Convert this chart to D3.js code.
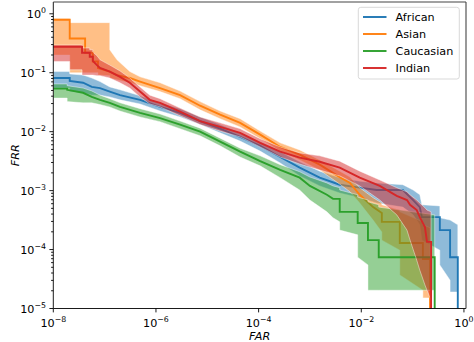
<!DOCTYPE html>
<html>
<head>
<meta charset="utf-8">
<script src="https://cdn.jsdelivr.net/npm/d3@7"></script>
<style>
  html, body { margin: 0; padding: 0; background: #fff; }
  svg { display: block; font-family: "DejaVu Sans", sans-serif; }
</style>
</head>
<body>
<script>
// DET curves, values are log10(FAR) / log10(FRR).
// upper/lower = confidence band around each curve.
const groups = ["African", "Asian", "Caucasian", "Indian"];
const colors = ["#1f77b4", "#ff7f0e", "#2ca02c", "#d62728"];

const africanFar   = [-8, -7.68, -7.68, -7.42, -7.25, -7.09, -6.90, -6.70, -6.31, -5.92, -5.53, -5.14, -4.75, -4.36, -3.97, -3.58, -3.20, -2.81, -2.42, -2.03, -1.70, -1.19, -0.99, -0.86, -0.82, -0.47, -0.47, -0.27, -0.27, -0.12, -0.12];
const africanFrr   = [-1.09, -1.09, -1.14, -1.17, -1.24, -1.26, -1.32, -1.38, -1.46, -1.58, -1.68, -1.82, -1.95, -2.09, -2.24, -2.43, -2.61, -2.78, -2.90, -2.95, -2.99, -2.99, -3.16, -3.28, -3.45, -3.45, -3.67, -3.67, -4.13, -4.13, -6];
const africanUpper = [-0.98, -0.98, -1.02, -1.04, -1.09, -1.15, -1.24, -1.29, -1.39, -1.51, -1.61, -1.75, -1.88, -2.02, -2.17, -2.34, -2.51, -2.67, -2.78, -2.84, -2.87, -2.90, -2.99, -3.07, -3.24, -3.26, -3.46, -3.50, -3.50, -3.58, -3.67];
const africanLower = [-1.26, -1.26, -1.32, -1.34, -1.38, -1.38, -1.41, -1.46, -1.53, -1.65, -1.75, -1.88, -2.02, -2.16, -2.33, -2.53, -2.75, -2.92, -3.04, -3.12, -3.21, -3.28, -3.41, -3.58, -3.84, -4.01, -4.26, -4.52, -4.72, -4.72, -4.72];

const asianFar   = [-8, -7.68, -7.68, -7.38, -7.38, -7.23, -7.23, -7.13, -7.13, -6.90, -6.90, -6.76, -6.51, -6.31, -5.92, -5.53, -5.14, -4.75, -4.36, -3.97, -3.58, -3.20, -2.81, -2.42, -2.22, -2.03, -1.77, -1.60, -1.60, -1.25, -1.25, -0.80, -0.80, -0.66, -0.66];
const asianFrr   = [-0.10, -0.10, -0.42, -0.42, -0.66, -0.66, -0.81, -0.81, -0.92, -0.98, -0.98, -1.04, -1.09, -1.15, -1.26, -1.38, -1.56, -1.71, -1.85, -2.05, -2.26, -2.39, -2.56, -2.77, -2.87, -3.07, -3.28, -3.38, -3.53, -3.53, -3.89, -3.89, -4.16, -4.16, -6];
const asianUpper = [-0.08, -0.08, -0.15, -0.15, -0.15, -0.15, -0.15, -0.15, -0.15, -0.15, -0.61, -0.78, -0.98, -1.07, -1.17, -1.31, -1.49, -1.65, -1.78, -1.99, -2.19, -2.31, -2.48, -2.67, -2.77, -2.95, -3.12, -3.21, -3.24, -3.33, -3.36, -3.53, -3.58, -3.63, -3.67];
const asianLower = [-0.70, -0.70, -1.00, -1.00, -1.00, -1.00, -1.00, -1.00, -1.04, -1.05, -1.09, -1.12, -1.17, -1.22, -1.32, -1.44, -1.63, -1.78, -1.92, -2.12, -2.33, -2.48, -2.65, -2.89, -3.02, -3.21, -3.50, -3.70, -3.84, -4.01, -4.43, -4.69, -4.82, -4.82, -4.82];

const caucasianFar   = [-8, -7.73, -7.73, -7.42, -7.25, -7.09, -6.90, -6.70, -6.31, -5.92, -5.53, -5.14, -4.75, -4.36, -3.97, -3.58, -3.20, -3.00, -2.67, -2.55, -2.42, -2.42, -2.07, -2.07, -1.87, -1.87, -1.66, -1.66, -0.57, -0.57];
const caucasianFrr   = [-1.27, -1.27, -1.29, -1.34, -1.41, -1.46, -1.51, -1.58, -1.68, -1.77, -1.88, -2.00, -2.17, -2.34, -2.50, -2.65, -2.78, -2.92, -3.07, -3.14, -3.14, -3.36, -3.36, -3.55, -3.55, -3.84, -3.84, -4.13, -4.13, -6];
const caucasianUpper = [-1.19, -1.19, -1.22, -1.26, -1.31, -1.38, -1.44, -1.51, -1.61, -1.70, -1.82, -1.94, -2.11, -2.28, -2.41, -2.56, -2.68, -2.77, -2.87, -2.92, -2.95, -2.99, -3.07, -3.11, -3.16, -3.19, -3.24, -3.28, -3.41, -3.41];
const caucasianLower = [-1.43, -1.43, -1.49, -1.51, -1.51, -1.54, -1.58, -1.65, -1.75, -1.83, -1.95, -2.07, -2.24, -2.43, -2.58, -2.78, -2.99, -3.16, -3.36, -3.46, -3.53, -3.67, -3.75, -4.13, -4.26, -4.69, -4.69, -4.69, -4.69, -4.69];

const indianFar   = [-8, -7.68, -7.68, -7.44, -7.44, -7.29, -7.29, -7.23, -7.23, -7.15, -7.09, -6.90, -6.70, -6.51, -6.31, -6.12, -5.92, -5.53, -5.14, -4.75, -4.36, -3.97, -3.58, -3.20, -2.81, -2.42, -2.03, -1.64, -1.31, -1.11, -1.05, -0.92, -0.86, -0.76, -0.72, -0.64, -0.64];
const indianFrr   = [-0.56, -0.56, -0.56, -0.56, -0.66, -0.66, -0.73, -0.73, -0.80, -0.87, -0.92, -0.98, -1.07, -1.17, -1.32, -1.46, -1.51, -1.66, -1.82, -1.92, -2.02, -2.19, -2.34, -2.44, -2.51, -2.61, -2.78, -2.92, -3.09, -3.16, -3.24, -3.33, -3.45, -3.62, -3.87, -3.87, -6];
const indianUpper = [-0.53, -0.53, -0.53, -0.53, -0.58, -0.58, -0.61, -0.61, -0.65, -0.71, -0.78, -0.87, -0.97, -1.09, -1.24, -1.38, -1.44, -1.60, -1.75, -1.85, -1.95, -2.12, -2.26, -2.36, -2.41, -2.50, -2.67, -2.82, -2.95, -3.02, -3.07, -3.16, -3.21, -3.29, -3.33, -3.36, -3.41];
const indianLower = [-0.81, -0.81, -0.95, -0.95, -1.04, -1.04, -1.04, -1.04, -1.04, -1.05, -1.05, -1.09, -1.17, -1.26, -1.41, -1.53, -1.58, -1.73, -1.88, -1.99, -2.09, -2.26, -2.43, -2.55, -2.65, -2.75, -2.92, -3.16, -3.41, -3.67, -3.84, -4.18, -4.35, -4.60, -4.69, -4.86, -4.86];

const xTicks = [1e-8, 1e-6, 1e-4, 1e-2, 1];
const xTickExp = ["\u22128", "\u22126", "\u22124", "\u22122", "0"];
const yTicks = [1e-5, 1e-4, 1e-3, 1e-2, 1e-1, 1];
const yTickExp = ["\u22125", "\u22124", "\u22123", "\u22122", "\u22121", "0"];

const width = 474, height = 342;
const m = {left: 53.3, right: 466, top: 2, bottom: 308.5};

const x = d3.scaleLog().domain([1e-8, 10 ** 0.04]).range([m.left, m.right]);
const y = d3.scaleLog().domain([1e-5, 10 ** 0.2]).range([m.bottom, m.top]);

const cols = [
  [africanFar, africanFrr, africanUpper, africanLower],
  [asianFar, asianFrr, asianUpper, asianLower],
  [caucasianFar, caucasianFrr, caucasianUpper, caucasianLower],
  [indianFar, indianFrr, indianUpper, indianLower]
];
const series = groups.map((name, i) => {
  const [far, frr, up, lo] = cols[i];
  return {
    name, color: colors[i],
    points: far.map((f, j) => ({far: 10 ** f, frr: 10 ** frr[j], up: 10 ** up[j], lo: 10 ** lo[j]}))
  };
});

const svg = d3.select("body").append("svg")
  .attr("width", width)
  .attr("height", height);

svg.append("clipPath").attr("id", "plot")
  .append("rect")
  .attr("x", m.left).attr("y", m.top)
  .attr("width", m.right - m.left).attr("height", m.bottom - m.top);

const plot = svg.append("g").attr("clip-path", "url(#plot)");

const band = d3.area()
  .x(d => x(d.far))
  .y0(d => y(d.lo))
  .y1(d => y(d.up));
const line = d3.line()
  .x(d => x(d.far))
  .y(d => y(d.frr));

for (const s of series) {
  plot.append("path")
    .attr("d", band(s.points))
    .attr("fill", s.color)
    .attr("fill-opacity", 0.5)
    .attr("stroke", "#fff")
    .attr("stroke-opacity", 0.55)
    .attr("stroke-width", 0.8);
  plot.append("path")
    .attr("d", line(s.points))
    .attr("fill", "none")
    .attr("stroke", s.color)
    .attr("stroke-width", 1.9);
}

// axes
const fs = 11.2;
const ax = svg.append("g").attr("stroke", "#000").attr("stroke-width", 0.9);

// y minor ticks
const yMinor = y.ticks().filter(v => !yTicks.some(t => Math.abs(v / t - 1) < 1e-6));
ax.selectAll(".ymin").data(yMinor).join("line")
  .attr("x1", m.left - 2.2).attr("x2", m.left)
  .attr("y1", d => y(d)).attr("y2", d => y(d));
ax.selectAll(".ymaj").data(yTicks).join("line")
  .attr("x1", m.left - 3.9).attr("x2", m.left)
  .attr("y1", d => y(d)).attr("y2", d => y(d));
ax.selectAll(".xmaj").data(xTicks).join("line")
  .attr("x1", d => x(d)).attr("x2", d => x(d))
  .attr("y1", m.bottom).attr("y2", m.bottom + 3.9);

// frame
svg.append("line").attr("x1", m.left).attr("x2", m.left).attr("y1", m.top).attr("y2", m.bottom)
  .attr("stroke", "#000").attr("stroke-width", 0.9);
svg.append("line").attr("x1", m.left).attr("x2", m.right).attr("y1", m.bottom).attr("y2", m.bottom)
  .attr("stroke", "#000").attr("stroke-width", 0.9);
svg.append("line").attr("x1", m.left).attr("x2", m.right).attr("y1", m.top).attr("y2", m.top)
  .attr("stroke", "#444").attr("stroke-width", 1.1);
svg.append("line").attr("x1", m.right).attr("x2", m.right).attr("y1", m.top).attr("y2", m.bottom)
  .attr("stroke", "#444").attr("stroke-width", 1.1);

// tick labels
function powLabel(sel, exp) {
  sel.append("tspan").text("10");
  sel.append("tspan").attr("dy", -4.6).attr("font-size", fs * 0.7).text(exp);
}
xTicks.forEach((t, i) => {
  svg.append("text")
    .attr("x", x(t)).attr("y", 326.5)
    .attr("text-anchor", "middle")
    .attr("font-size", fs)
    .call(powLabel, xTickExp[i]);
});
yTicks.forEach((t, i) => {
  svg.append("text")
    .attr("x", 46).attr("y", y(t) + 4.3)
    .attr("text-anchor", "end")
    .attr("font-size", fs)
    .call(powLabel, yTickExp[i]);
});

svg.append("text")
  .attr("x", (m.left + m.right) / 2).attr("y", 340)
  .attr("text-anchor", "middle")
  .attr("font-size", fs).attr("font-style", "italic")
  .text("FAR");
svg.append("text")
  .attr("transform", `translate(18.5,${(m.top + m.bottom) / 2}) rotate(-90)`)
  .attr("text-anchor", "middle")
  .attr("font-size", fs).attr("font-style", "italic")
  .text("FRR");

// legend
const lg = svg.append("g");
lg.append("rect")
  .attr("x", 358.3).attr("y", 7.3)
  .attr("width", 101).attr("height", 71.7)
  .attr("rx", 2.5)
  .attr("fill", "#fff").attr("fill-opacity", 0.8)
  .attr("stroke", "#d5d5d5").attr("stroke-width", 0.9);
series.forEach((s, i) => {
  const cy = 17 + i * 17;
  lg.append("line")
    .attr("x1", 363).attr("x2", 386.5)
    .attr("y1", cy).attr("y2", cy)
    .attr("stroke", s.color).attr("stroke-width", 1.9);
  lg.append("text")
    .attr("x", 395.6).attr("y", cy + 4)
    .attr("font-size", fs)
    .text(s.name);
});
</script>
</body>
</html>
